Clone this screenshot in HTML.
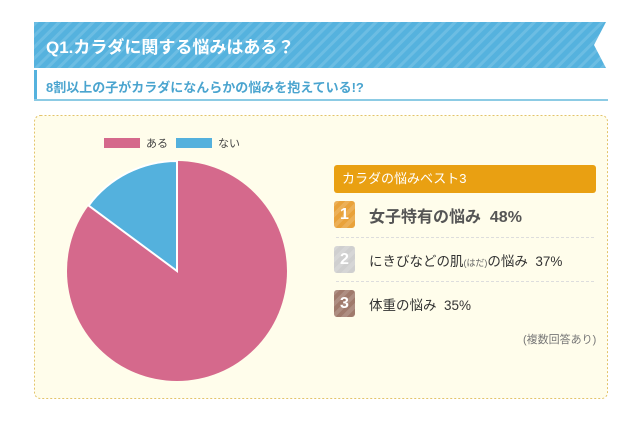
<!DOCTYPE html><html><head><meta charset="utf-8"><style>
body{margin:0;width:640px;height:426px;background:#fff;position:relative;font-family:"Liberation Sans","Noto Sans CJK JP",sans-serif;overflow:hidden}
.a{position:absolute}
.badge{position:absolute;left:334px;width:21px;height:27px;border-radius:3px;color:#fff;font-weight:bold;font-size:16px;text-align:center;line-height:27px;background-image:repeating-linear-gradient(135deg,rgba(255,255,255,.15) 0 4px,transparent 4px 8px)}
</style></head><body>
<svg class="a" style="left:0;top:0" width="640" height="426">
<defs><pattern id="st" width="8" height="8" patternUnits="userSpaceOnUse" patternTransform="rotate(45)"><rect width="8" height="8" fill="#55b2de"/><rect width="3" height="8" fill="#6cbde3"/></pattern></defs>
<polygon points="34,22 606,22 594,45 606,68 34,68" fill="url(#st)"/>
<rect x="34" y="70" width="574" height="30" fill="#fff"/>
<rect x="34" y="70" width="3" height="30" fill="#55b2de"/>
<rect x="34" y="99" width="574" height="2" fill="#8ccbe4"/>
<rect x="34.5" y="115.5" width="573" height="283" rx="6" fill="#fffdeb" stroke="#e3c46a" stroke-dasharray="2,2"/>
<rect x="104" y="138" width="36" height="10" fill="#d5698c"/>
<rect x="176" y="138" width="36" height="10" fill="#54b1dd"/>
<circle cx="177" cy="271" r="110" fill="#d5698c"/>
<path d="M177,271 L177,161 A110,110 0 0 0 88.6,205.6 Z" fill="#54b1dd" stroke="#fff" stroke-width="2"/>
<line x1="336" y1="237.5" x2="596" y2="237.5" stroke="#ddd" stroke-dasharray="3,2"/>
<line x1="336" y1="281.5" x2="596" y2="281.5" stroke="#ddd" stroke-dasharray="3,2"/>
</svg>
<div class="a" style="left:46px;top:33px;color:#fff;font-size:17px;font-weight:bold">Q1.カラダに関する悩みはある？</div>
<div class="a" style="left:46px;top:77px;color:#4aa4cf;font-size:13px;font-weight:bold">8割以上の子がカラダになんらかの悩みを抱えている!?</div>
<div class="a" style="left:146px;top:135px;font-size:11px;color:#444">ある</div>
<div class="a" style="left:218px;top:135px;font-size:11px;color:#444">ない</div>
<div class="a" style="left:334px;top:165px;width:262px;height:28px;background:#e9a012;border-radius:3px;color:#fff;font-size:13px;line-height:28px;text-indent:8px">カラダの悩みベスト3</div>
<div class="badge" style="top:201px;background-color:#e9a23a">1</div>
<div class="a" style="left:369px;top:203px;font-size:16px;font-weight:bold;color:#555">女子特有の悩み&nbsp; 48%</div>
<div class="badge" style="top:246px;background-color:#cfcfcf">2</div>
<div class="a" style="left:369px;top:250px;font-size:13.5px;color:#333">にきびなどの肌<span style="font-size:9px;color:#666">(はだ)</span>の悩み&nbsp; 37%</div>
<div class="badge" style="top:290px;background-color:#a07a6c">3</div>
<div class="a" style="left:369px;top:294px;font-size:13.5px;color:#333">体重の悩み&nbsp; 35%</div>
<div class="a" style="left:523px;top:331px;font-size:11px;color:#777">(複数回答あり)</div>
</body></html>
